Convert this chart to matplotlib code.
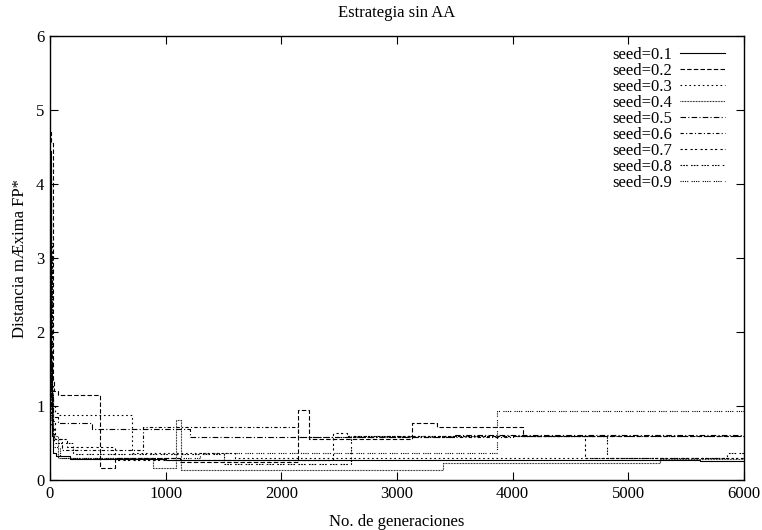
import matplotlib
matplotlib.use("Agg")
import matplotlib.pyplot as plt

# ---- data (generation, best distance) change points ----
gen_01 = [0, 8, 18, 30, 50, 170, 1000, 5620, 6000]
val_01 = [4.45, 1.6, 0.6, 0.36, 0.32, 0.28, 0.27, 0.26, 0.26]

gen_02 = [0, 12, 22, 35, 70, 432, 562, 1124, 2144, 2239, 3130, 3346, 4089, 6000]
val_02 = [4.7, 4.55, 1.35, 1.2, 1.15, 0.16, 0.30, 0.24, 0.95, 0.55, 0.77, 0.72, 0.60, 0.60]

gen_03 = [0, 10, 25, 45, 69, 709, 1600, 6000]
val_03 = [4.0, 1.3, 1.0, 0.9, 0.88, 0.36, 0.30, 0.30]

gen_04 = [0, 10, 30, 70, 890, 1090, 1130, 3400, 5270, 6000]
val_04 = [3.3, 1.1, 0.6, 0.30, 0.16, 0.81, 0.13, 0.23, 0.28, 0.28]

gen_05 = [0, 12, 30, 69, 363, 1210, 3500, 6000]
val_05 = [4.1, 1.2, 0.85, 0.77, 0.69, 0.58, 0.61, 0.61]

gen_06 = [0, 10, 28, 100, 804, 2144, 4000, 6000]
val_06 = [3.8, 0.9, 0.55, 0.40, 0.72, 0.58, 0.60, 0.60]

gen_07 = [0, 15, 40, 150, 560, 2450, 2570, 4625, 6000]
val_07 = [3.2, 0.8, 0.55, 0.45, 0.27, 0.63, 0.60, 0.30, 0.30]

gen_08 = [0, 15, 35, 200, 1500, 2600, 4815, 5850, 6000]
val_08 = [3.0, 0.7, 0.50, 0.35, 0.22, 0.60, 0.30, 0.37, 0.37]

gen_09 = [0, 12, 30, 90, 1300, 3865, 6000]
val_09 = [4.2, 0.75, 0.45, 0.30, 0.36, 0.93, 0.93]

series_gens = [gen_01, gen_02, gen_03, gen_04, gen_05, gen_06, gen_07, gen_08, gen_09]
series_vals = [val_01, val_02, val_03, val_04, val_05, val_06, val_07, val_08, val_09]
labels = ["seed=0.1", "seed=0.2", "seed=0.3", "seed=0.4", "seed=0.5",
          "seed=0.6", "seed=0.7", "seed=0.8", "seed=0.9"]
x_ticks = [0, 1000, 2000, 3000, 4000, 5000, 6000]
y_ticks = [0, 1, 2, 3, 4, 5, 6]

# ---- style ----
dashes = [
    None,
    (0, (4, 2)),
    (0, (1.5, 2.5)),
    (0, (0.7, 0.7)),
    (0, (5, 2, 1, 2)),
    (0, (3, 2, 1, 2)),
    (0, (2, 2, 2, 3)),
    (0, (1.5, 1, 1.5, 1, 1.5, 3)),
    (0, (1, 1, 1, 1, 1, 1, 1, 3)),
]

FS = 12
plt.rcParams['font.family'] = ['Liberation Serif', 'DejaVu Serif']
fig = plt.figure(figsize=(7.62, 5.30), dpi=100)
ax = fig.add_axes([50/762, 1-480/530, 694/762, 444/530])

for g, v, lab, ls in zip(series_gens, series_vals, labels, dashes):
    kw = dict(color='black', lw=0.8, drawstyle='steps-post', label=lab)
    if ls is None:
        ax.plot(g, v, linestyle='-', **kw)
    else:
        ax.plot(g, v, linestyle=ls, **kw)

ax.set_xlim(0, 6000)
ax.set_ylim(0, 6)
ax.set_xticks(x_ticks)
ax.set_yticks(y_ticks)
ax.tick_params(direction='in', top=True, right=True, length=6, width=0.8,
               labelsize=FS, pad=4)
for s in ax.spines.values():
    s.set_linewidth(1.0)

ax.set_title("Estrategia sin AA", fontsize=FS, pad=14)
ax.set_xlabel("No. de generaciones", fontsize=FS, labelpad=9)
ax.set_ylabel("Distancia mÆxima FP*", fontsize=FS, labelpad=6)

leg = ax.legend(loc='upper right', frameon=False, markerfirst=False,
                fontsize=FS, handlelength=2.7, labelspacing=0.0,
                borderaxespad=0.0, borderpad=0.0, handletextpad=0.5,
                bbox_to_anchor=((725 - 50) / 694, 1 - 11 / 444))

fig.savefig("out.png", dpi=100)
